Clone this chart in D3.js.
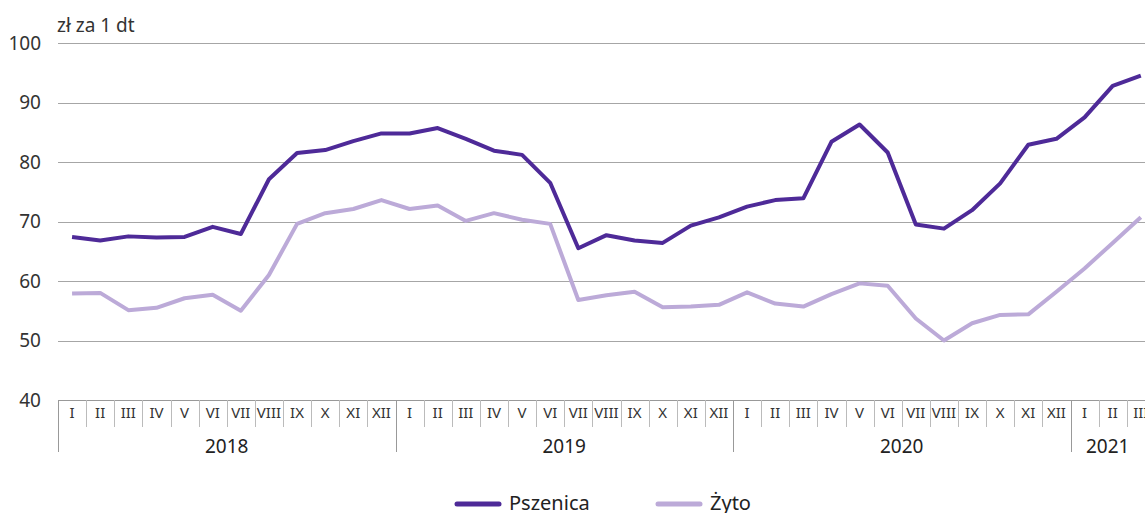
<!DOCTYPE html>
<html>
<head>
<meta charset="utf-8">
<style>
    body { margin: 0; background: #fff; }
    svg { display: block; font-family: 'Noto Sans', 'Open Sans', sans-serif; }
    .grid line { stroke: #a6a6a6; stroke-width: 1; }
    .ytick { font-size: 19px; fill: #333; }
    .title { font-size: 19px; fill: #333; }
    .month { font-size: 15px; fill: #333; }
    .year { font-size: 19px; fill: #222; }
    .legend text { font-size: 20px; fill: #222; }
</style>
</head>
<body>
<svg width="1145" height="513"></svg>
<script src="https://cdnjs.cloudflare.com/ajax/libs/d3/7.8.5/d3.min.js"></script>
<script>
    // data
    let years = ["2018", "2019", "2020", "2021"]
    let monthNames = ["I", "II", "III", "IV", "V", "VI", "VII", "VIII", "IX", "X", "XI", "XII"]
    let monthsPerYear = [12, 12, 12, 3]

    let pszenica = [
        67.4, 66.8, 67.5, 67.3, 67.4, 69.1, 67.9, 77.1, 81.5, 82.0, 83.5, 84.8,
        84.8, 85.7, 83.9, 81.9, 81.2, 76.5, 65.5, 67.7, 66.8, 66.4, 69.3, 70.7,
        72.5, 73.6, 73.9, 83.4, 86.3, 81.6, 69.5, 68.8, 71.9, 76.4, 82.9, 83.9,
        87.5, 92.8, 94.5
    ]
    let zyto = [
        57.9, 58.0, 55.1, 55.5, 57.1, 57.7, 55.0, 61.0, 69.6, 71.4, 72.1, 73.6,
        72.1, 72.7, 70.1, 71.4, 70.3, 69.6, 56.8, 57.6, 58.2, 55.6, 55.7, 56.0,
        58.1, 56.2, 55.7, 57.8, 59.6, 59.2, 53.7, 50.0, 52.9, 54.3, 54.4, 58.2,
        62.1, 66.4, 70.7
    ]
    let yTicks = [40, 50, 60, 70, 80, 90, 100]

    let seriesNames = ["Pszenica", "Żyto"]
    let seriesColors = ["#4e2a98", "#bcaad8"]

    // month list
    let months = []
    years.forEach((y, yi) => {
        for (let m = 0; m < monthsPerYear[yi]; m++) {
            months.push({ year: y, label: monthNames[m], idx: months.length })
        }
    })

    let svg = d3.select("svg")
    let margin = { left: 58, top: 43, bottom: 400 }
    let step = 28.125

    let x = d3.scaleBand()
        .domain(months.map(d => d.idx))
        .range([margin.left, margin.left + months.length * step])
        .padding(0)

    let y = d3.scaleLinear()
        .domain([40, 100])
        .range([margin.bottom, margin.top])

    // gridlines
    let grid = svg.append("g").attr("class", "grid")
    grid.selectAll("line")
        .data(yTicks)
        .join("line")
        .attr("x1", margin.left)
        .attr("x2", 1145)
        .attr("y1", d => Math.round(y(d)) + 0.5)
        .attr("y2", d => Math.round(y(d)) + 0.5)
        .style("stroke", d => d == 40 ? "#999" : null)

    svg.selectAll(".ytick")
        .data(yTicks)
        .join("text")
        .attr("class", "ytick")
        .attr("x", 41)
        .attr("y", d => y(d))
        .attr("dy", "0.35em")
        .attr("text-anchor", "end")
        .text(d => d)

    svg.append("text")
        .attr("class", "title")
        .attr("x", 57)
        .attr("y", 32)
        .text("zł za 1 dt")

    // month separators + labels
    let axis = svg.append("g")
    axis.selectAll(".msep")
        .data(months)
        .join("line")
        .attr("x1", d => Math.round(x(d.idx)) + 0.5)
        .attr("x2", d => Math.round(x(d.idx)) + 0.5)
        .attr("y1", margin.bottom)
        .attr("y2", d => d.label == "I" ? 452 : 427)
        .attr("stroke", d => d.label == "I" ? "#999" : "#bbb")

    axis.selectAll(".month")
        .data(months)
        .join("text")
        .attr("class", "month")
        .attr("x", d => x(d.idx) + x.bandwidth() / 2)
        .attr("y", 413)
        .attr("dy", "0.35em")
        .attr("text-anchor", "middle")
        .text(d => d.label)

    let yearData = years.map(yr => {
        let ms = months.filter(m => m.year == yr)
        let x0 = x(ms[0].idx)
        let x1 = Math.min(x(ms[ms.length - 1].idx) + x.bandwidth(), 1145)
        return { year: yr, cx: (x0 + x1) / 2 }
    })
    axis.selectAll(".year")
        .data(yearData)
        .join("text")
        .attr("class", "year")
        .attr("x", d => d.cx)
        .attr("y", 446)
        .attr("dy", "0.35em")
        .attr("text-anchor", "middle")
        .text(d => d.year)

    // lines
    let line = d3.line()
        .x((d, i) => x(i) + x.bandwidth() / 2)
        .y(d => y(d))

    ;[zyto, pszenica].forEach((s, k) => {
        svg.append("path")
            .datum(s)
            .attr("fill", "none")
            .attr("stroke", k == 0 ? seriesColors[1] : seriesColors[0])
            .attr("stroke-width", 4)
            .attr("stroke-linejoin", "round")
            .attr("d", line)
    })

    // legend
    let legendX = [457, 658]
    let legend = svg.append("g").attr("class", "legend")
    seriesNames.forEach((name, i) => {
        legend.append("line")
            .attr("x1", legendX[i])
            .attr("x2", legendX[i] + 42)
            .attr("y1", 504)
            .attr("y2", 504)
            .attr("stroke", seriesColors[i])
            .attr("stroke-width", 5)
            .attr("stroke-linecap", "round")
        legend.append("text")
            .attr("x", legendX[i] + 52)
            .attr("y", 503)
            .attr("dy", "0.35em")
            .text(name)
    })
</script>
</body>
</html>
